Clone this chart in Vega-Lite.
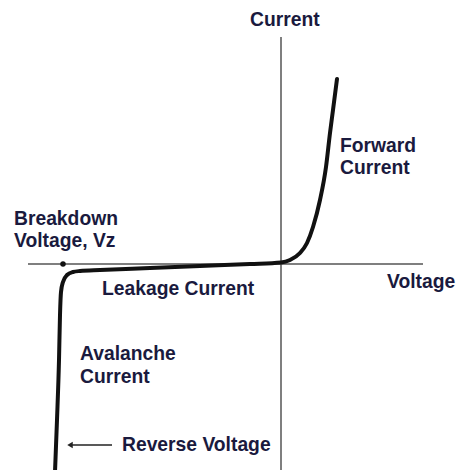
{
  "$schema": "https://vega.github.io/schema/vega-lite/v6.json",
  "width": 456,
  "height": 470,
  "autosize": {"type": "none"},
  "padding": 0,
  "background": "white",
  "config": {"view": {"stroke": null}},
  "datasets": {
    "axes": [
      {"x": -25.3, "x2": 14.2, "y": 0, "y2": 0},
      {"x": 0, "x2": 0, "y": 22.7, "y2": -20.6}
    ],
    "curve": [
      {"i": 1, "v": -22.6, "c": -20.8},
      {"i": 2, "v": -22.4, "c": -15.6},
      {"i": 3, "v": -22.2, "c": -9.6},
      {"i": 4, "v": -22.1, "c": -5.1},
      {"i": 5, "v": -22.0, "c": -2.8},
      {"i": 6, "v": -21.8, "c": -1.8},
      {"i": 7, "v": -21.4, "c": -1.1},
      {"i": 8, "v": -20.8, "c": -0.8},
      {"i": 9, "v": -20.1, "c": -0.7},
      {"i": 10, "v": -18.1, "c": -0.6},
      {"i": 11, "v": -13.1, "c": -0.4},
      {"i": 12, "v": -8.1, "c": -0.2},
      {"i": 13, "v": -3.1, "c": 0.0},
      {"i": 14, "v": 0.0, "c": 0.15},
      {"i": 15, "v": 0.9, "c": 0.4},
      {"i": 16, "v": 1.9, "c": 1.1},
      {"i": 17, "v": 2.6, "c": 2.1},
      {"i": 18, "v": 3.2, "c": 3.7},
      {"i": 19, "v": 3.9, "c": 6.4},
      {"i": 20, "v": 4.5, "c": 9.7},
      {"i": 21, "v": 4.9, "c": 13.1},
      {"i": 22, "v": 5.2, "c": 15.4},
      {"i": 23, "v": 5.6, "c": 18.5}
    ],
    "dot": [{"v": -21.8, "c": 0}],
    "arrow": [{"x": -21.1, "x2": -16.9, "y": -18.1}],
    "labels": [
      {"t": "Current", "x": -3.1, "y": 24.4},
      {"t": "Forward", "x": 5.9, "y": 11.8},
      {"t": "Current", "x": 5.9, "y": 9.6},
      {"t": "Voltage", "x": 10.6, "y": -1.8},
      {"t": "Breakdown", "x": -26.7, "y": 4.5},
      {"t": "Voltage, Vz", "x": -26.7, "y": 2.3},
      {"t": "Leakage Current", "x": -17.9, "y": -2.5},
      {"t": "Avalanche", "x": -20.1, "y": -9.0},
      {"t": "Current", "x": -20.1, "y": -11.3},
      {"t": "Reverse Voltage", "x": -15.9, "y": -18.1}
    ]
  },
  "layer": [
    {
      "data": {"name": "axes"},
      "mark": {"type": "rule", "color": "#555555", "strokeWidth": 1.5},
      "encoding": {
        "x": {"field": "x", "type": "quantitative", "scale": {"domain": [-28.1, 17.5], "nice": false, "zero": false}, "axis": null},
        "x2": {"field": "x2"},
        "y": {"field": "y", "type": "quantitative", "scale": {"domain": [-20.6, 26.4], "nice": false, "zero": false}, "axis": null},
        "y2": {"field": "y2"}
      }
    },
    {
      "data": {"name": "curve"},
      "mark": {"type": "line", "color": "#111111", "strokeWidth": 4, "interpolate": "monotone", "strokeCap": "round", "clip": true},
      "encoding": {
        "x": {"field": "v", "type": "quantitative"},
        "y": {"field": "c", "type": "quantitative"},
        "order": {"field": "i", "type": "quantitative"}
      }
    },
    {
      "data": {"name": "dot"},
      "mark": {"type": "point", "filled": true, "color": "#111111", "size": 30, "opacity": 1},
      "encoding": {
        "x": {"field": "v", "type": "quantitative"},
        "y": {"field": "c", "type": "quantitative"}
      }
    },
    {
      "data": {"name": "arrow"},
      "mark": {"type": "rule", "color": "#222222", "strokeWidth": 1.5},
      "encoding": {
        "x": {"field": "x", "type": "quantitative"},
        "x2": {"field": "x2"},
        "y": {"field": "y", "type": "quantitative"}
      }
    },
    {
      "data": {"name": "arrow"},
      "mark": {"type": "point", "shape": "triangle-left", "filled": true, "color": "#222222", "size": 40, "opacity": 1},
      "encoding": {
        "x": {"field": "x", "type": "quantitative"},
        "y": {"field": "y", "type": "quantitative"}
      }
    },
    {
      "data": {"name": "labels"},
      "mark": {"type": "text", "align": "left", "baseline": "middle", "font": "Liberation Sans", "fontWeight": "bold", "fontSize": 19.3, "color": "#1a1a3e"},
      "encoding": {
        "x": {"field": "x", "type": "quantitative"},
        "y": {"field": "y", "type": "quantitative"},
        "text": {"field": "t"}
      }
    }
  ]
}
